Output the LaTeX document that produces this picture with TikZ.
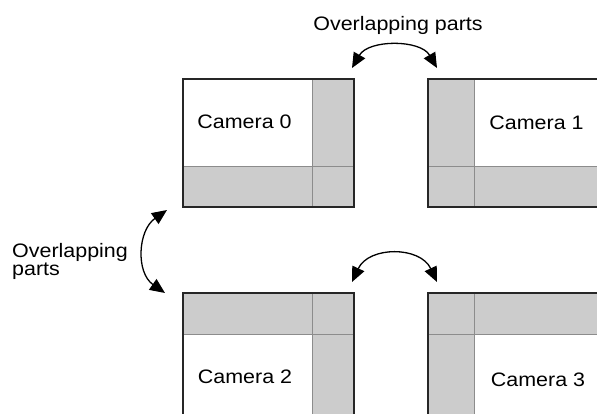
\documentclass[tikz,border=0pt]{standalone}
\usepackage{fontspec}
\setmainfont{Liberation Sans}[FakeStretch=1.1]
\usetikzlibrary{arrows.meta}
\definecolor{ovgrey}{HTML}{CCCCCC}
\begin{document}
\begin{tikzpicture}[x=1pt,y=-1pt,
  frame/.style={draw=black!85, line width=1.4pt},
  divline/.style={draw=black!45, line width=0.8pt},
  lbl/.style={font=\fontsize{19.5}{18}\selectfont, inner sep=0pt},
  dbl/.style={{Triangle[length=15pt,width=13pt]}-{Triangle[length=15pt,width=13pt]}, line width=1.3pt}]
\useasboundingbox (0,0) rectangle (597,414);
\clip (0,0) rectangle (597,414);
% Camera 0
\fill[ovgrey] (183,79) rectangle (354,207);
\fill[white] (183,79) rectangle (312,166);
\draw[divline] (312,79) -- (312,207) (183,166) -- (354,166);
\draw[frame] (183,79) rectangle (354,207);
% Camera 1
\fill[ovgrey] (428,79) rectangle (620,207);
\fill[white] (474,79) rectangle (620,166);
\draw[divline] (474,79) -- (474,207) (428,166) -- (620,166);
\draw[frame] (428,79) rectangle (620,207);
% Camera 2
\fill[ovgrey] (183,293) rectangle (354,430);
\fill[white] (183,334) rectangle (312,430);
\draw[divline] (312,293) -- (312,430) (183,334) -- (354,334);
\draw[frame] (183,293) rectangle (354,430);
% Camera 3
\fill[ovgrey] (428,293) rectangle (620,430);
\fill[white] (474,334) rectangle (620,430);
\draw[divline] (474,293) -- (474,430) (428,334) -- (620,334);
\draw[frame] (428,293) rectangle (620,430);
% labels
\node[lbl] (c0) at (244.5,122) {Camera 0};
\node[lbl] (c1) at (536.5,123) {Camera 1};
\node[lbl] (c2) at (245,377) {Camera 2};
\node[lbl] (c3) at (538,380) {Camera 3};
\node[lbl] (ovtop) at (398,25) {Overlapping parts};
\node[lbl, align=left, anchor=west] (ovleft) at (12,261.5) {Overlapping\\parts};
% arrows
\coordinate (t0) at (352,68);
\coordinate (t1) at (437,68);
\coordinate (m0) at (352,282);
\coordinate (m1) at (437,282);
\coordinate (l0) at (167,210);
\coordinate (l1) at (165,293);
\draw[dbl] (t0) to[out=60,in=120] (t1);
\draw[dbl] (m0) to[out=65,in=115,looseness=1.2] (m1);
\draw[dbl] (l0) to[out=-145,in=145,looseness=1.1] (l1);
\end{tikzpicture}
\end{document}
